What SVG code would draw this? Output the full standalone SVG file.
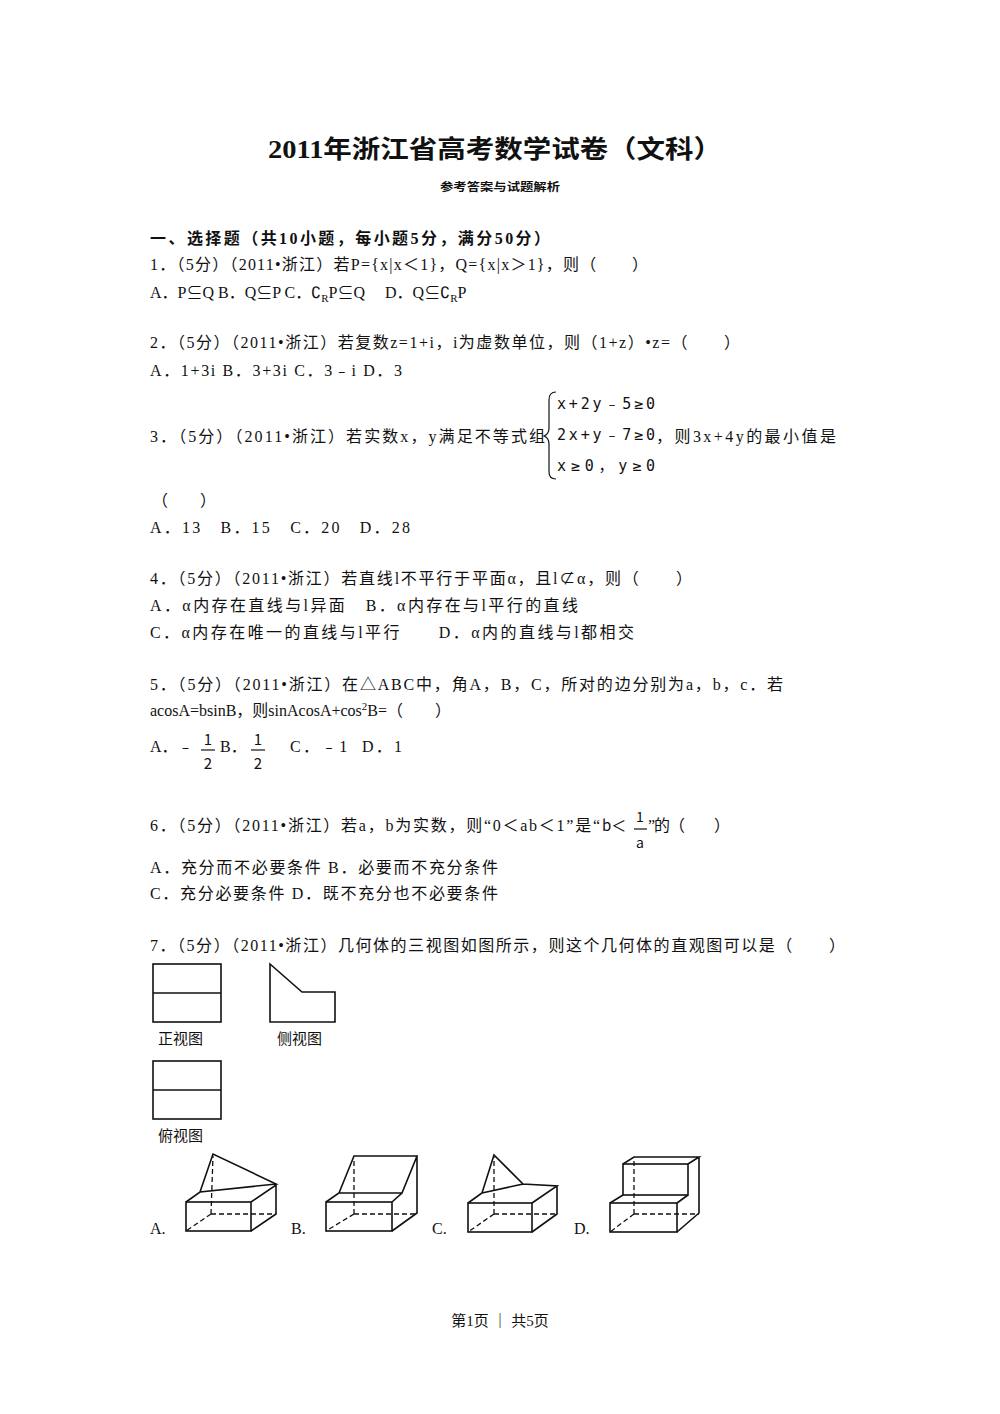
<svg xmlns="http://www.w3.org/2000/svg" width="1000" height="1414" viewBox="0 0 1000 1414">
<style>
text{font-family:"Liberation Serif","Noto Sans CJK SC",serif;font-size:16px;fill:#111}
.b{font-weight:bold}
.s{fill:none;stroke:#111;stroke-width:1.6}
.d{fill:none;stroke:#111;stroke-width:1.3;stroke-dasharray:5,3}
.m{font-family:"DejaVu Sans Mono","Noto Sans CJK SC",monospace;font-size:15px}
.l{font-family:"Noto Sans CJK SC",sans-serif;font-size:15px}
</style>
<rect width="1000" height="1414" fill="#fff"/>
<text x="268" y="158" class="b" style="font-size:25px" textLength="454" lengthAdjust="spacingAndGlyphs">2011年浙江省高考数学试卷（文科）</text>
<text x="440" y="191" class="b" style="font-size:11px" textLength="120" lengthAdjust="spacingAndGlyphs">参考答案与试题解析</text>
<text x="150" y="244" class="b" textLength="400" lengthAdjust="spacing">一、选择题（共10小题，每小题5分，满分50分）</text>
<text x="150" y="270" textLength="498" lengthAdjust="spacing">1．（5分）（2011•浙江）若P={x|x＜1}，Q={x|x＞1}，则（　　）</text>
<text x="150" y="298">A．P⊆Q B．Q⊆P C．∁<tspan dy="4" style="font-size:11px">R</tspan><tspan dy="-4">P⊆Q　 D．Q⊆∁</tspan><tspan dy="4" style="font-size:11px">R</tspan><tspan dy="-4">P</tspan></text>
<text x="150" y="348" textLength="590" lengthAdjust="spacing">2．（5分）（2011•浙江）若复数z=1+i，i为虚数单位，则（1+z）•z=（　　）</text>
<text x="150" y="376" textLength="252" lengthAdjust="spacing">A．1+3i B．3+3i C．3﹣i D．3</text>
<text x="150" y="442" textLength="395" lengthAdjust="spacing">3．（5分）（2011•浙江）若实数x，y满足不等式组</text>
<path class="s" d="M556,392 Q549,392 549,400 L549,428 Q549,434 544,436 Q549,438 549,444 L549,472 Q549,479 556,479" style="stroke-width:1.2"/>
<text x="557" y="409" class="m" textLength="98" lengthAdjust="spacing">x+2y﹣5≥0</text>
<text x="557" y="440" class="m" textLength="98" lengthAdjust="spacing">2x+y﹣7≥0</text>
<text x="557" y="471" class="m" textLength="98" lengthAdjust="spacing">x≥0，y≥0</text>
<text x="656" y="442" textLength="180" lengthAdjust="spacing">，则3x+4y的最小值是</text>
<text x="152" y="506">（　　）</text>
<text x="150" y="533" xml:space="preserve" textLength="260" lengthAdjust="spacing">A．13　B．15　C．20　D．28</text>
<text x="150" y="584" textLength="542" lengthAdjust="spacing">4．（5分）（2011•浙江）若直线l不平行于平面α，且l⊄α，则（　　）</text>
<text x="150" y="611" textLength="428" lengthAdjust="spacing">A．α内存在直线与l异面　B．α内存在与l平行的直线</text>
<text x="150" y="638" textLength="484" lengthAdjust="spacing">C．α内存在唯一的直线与l平行　　D．α内的直线与l都相交</text>
<text x="150" y="690" textLength="633" lengthAdjust="spacing">5．（5分）（2011•浙江）在△ABC中，角A，B，C，所对的边分别为a，b，c．若</text>
<text x="150" y="716">acosA=bsinB，则sinAcosA+cos<tspan dy="-6" style="font-size:11px">2</tspan><tspan dy="6">B=（　　）</tspan></text>
<text x="150" y="752">A．﹣</text>
<text x="208" y="745" class="l" text-anchor="middle">1</text>
<line x1="201" y1="750" x2="215" y2="750" stroke="#111" stroke-width="1.2"/>
<text x="208" y="769" class="l" text-anchor="middle">2</text>
<text x="220" y="752">B．</text>
<text x="258" y="745" class="l" text-anchor="middle">1</text>
<line x1="251" y1="750" x2="265" y2="750" stroke="#111" stroke-width="1.2"/>
<text x="258" y="769" class="l" text-anchor="middle">2</text>
<text x="290" y="752" xml:space="preserve" textLength="112" lengthAdjust="spacing">C．﹣1  D．1</text>
<text x="150" y="831" textLength="450" lengthAdjust="spacing">6．（5分）（2011•浙江）若a，b为实数，则“0＜ab＜1”是“</text>
<text x="602" y="831" class="l">b＜</text>
<text x="640" y="822" class="l" text-anchor="middle" style="font-size:14px">1</text>
<line x1="634" y1="829" x2="647" y2="829" stroke="#111" stroke-width="1.2"/>
<text x="640" y="848" class="l" text-anchor="middle" style="font-size:14px">a</text>
<text x="648" y="831" textLength="82" lengthAdjust="spacing">”的（　　）</text>
<text x="150" y="873" textLength="348" lengthAdjust="spacing">A．充分而不必要条件 B．必要而不充分条件</text>
<text x="150" y="899" textLength="348" lengthAdjust="spacing">C．充分必要条件 D．既不充分也不必要条件</text>
<text x="150" y="951" textLength="695" lengthAdjust="spacing">7．（5分）（2011•浙江）几何体的三视图如图所示，则这个几何体的直观图可以是（　　）</text>
<g id="views">
<rect class="s" x="153" y="964" width="68" height="58"/><line class="s" x1="153" y1="993" x2="221" y2="993"/>
<text x="158" y="1044" class="l">正视图</text>
<path class="s" d="M270,964 L302,992 L335,992 L335,1022 L270,1022 Z"/>
<text x="277" y="1044" class="l">侧视图</text>
<rect class="s" x="153" y="1061" width="68" height="58"/><line class="s" x1="153" y1="1090" x2="221" y2="1090"/>
<text x="158" y="1141" class="l">俯视图</text>
</g>
<g id="optA">
<text x="150" y="1234">A.</text>
<rect class="s" x="186" y="1202" width="65" height="29"/>
<path class="s" d="M251,1202 L276,1185 L276,1214 L251,1231 M186,1202 L200,1192 L276,1184 L213,1154 L200,1192"/>
<path class="d" d="M211,1214 L276,1214 M211,1214 L186,1231 M211,1214 L213,1156"/>
</g>
<g id="optB">
<text x="291" y="1234">B.</text>
<rect class="s" x="326" y="1202" width="66" height="29"/>
<path class="s" d="M326,1202 L339,1193 L354,1156 L417,1156 L402,1193 L392,1202 M339,1193 L402,1193 M417,1156 L417,1213 L392,1231"/>
<path class="d" d="M354,1214 L417,1214 M354,1214 L326,1231 M354,1214 L354,1158"/>
</g>
<g id="optC">
<text x="432" y="1234">C.</text>
<rect class="s" x="468" y="1203" width="64" height="29"/>
<path class="s" d="M468,1203 L482,1193 L494,1155 L523,1184 L482,1193 M523,1184 L557,1186 L532,1203 M557,1186 L557,1214 L532,1232"/>
<path class="d" d="M494,1214 L557,1214 M494,1214 L468,1232 M494,1214 L494,1157"/>
</g>
<g id="optD">
<text x="574" y="1234">D.</text>
<rect class="s" x="610" y="1203" width="67" height="29"/>
<rect class="s" x="623" y="1164" width="65" height="31"/>
<path class="s" d="M610,1203 L623,1195 M677,1203 L688,1195 M623,1164 L634,1157 L699,1157 L688,1164 M699,1157 L699,1213 L677,1232"/>
<path class="d" d="M634,1214 L699,1214 M634,1214 L610,1232 M634,1214 L634,1159"/>
</g>
<text x="500" y="1326" text-anchor="middle" style="font-size:15px">第1页 ｜ 共5页</text>
</svg>
